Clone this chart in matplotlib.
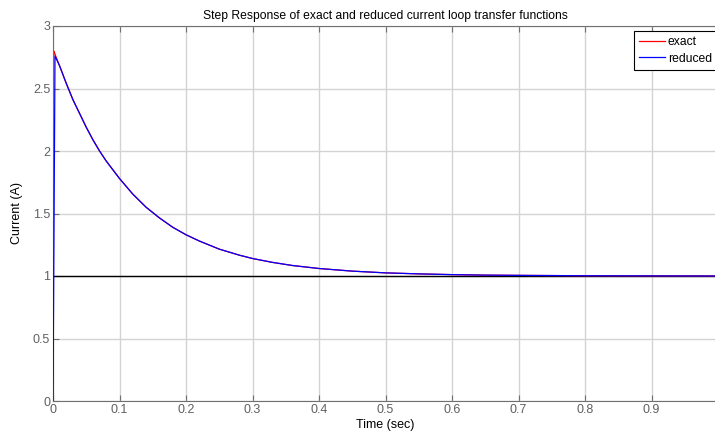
import matplotlib.pyplot as plt
import matplotlib

matplotlib.rcParams.update({'font.size': 9, 'font.family': ['Liberation Sans', 'DejaVu Sans']})

# time (sec) and current (A)
t_exact = [0, 0.0005, 0.001, 0.002, 0.004, 0.01, 0.02, 0.03, 0.04, 0.05, 0.06, 0.07,
           0.08, 0.09, 0.1, 0.12, 0.14, 0.16, 0.18, 0.2, 0.22, 0.25, 0.28, 0.3,
           0.33, 0.36, 0.4, 0.45, 0.5, 0.55, 0.6, 0.65, 0.7, 0.8, 0.9, 1.0]
i_exact = [0, 2.2, 2.80, 2.79, 2.76, 2.68, 2.54, 2.41, 2.30, 2.19, 2.09, 2.00,
           1.92, 1.85, 1.78, 1.655, 1.55, 1.465, 1.39, 1.33, 1.28, 1.215, 1.167, 1.14,
           1.109, 1.084, 1.06, 1.039, 1.025, 1.017, 1.011, 1.007, 1.005, 1.002, 1.001, 1.0]

t_reduced = [0, 0.003, 0.01, 0.02, 0.03, 0.04, 0.05, 0.06, 0.07,
             0.08, 0.09, 0.1, 0.12, 0.14, 0.16, 0.18, 0.2, 0.22, 0.25, 0.28, 0.3,
             0.33, 0.36, 0.4, 0.45, 0.5, 0.55, 0.6, 0.65, 0.7, 0.8, 0.9, 1.0]
i_reduced = [0, 2.76, 2.68, 2.54, 2.41, 2.30, 2.19, 2.09, 2.00,
             1.92, 1.85, 1.78, 1.655, 1.55, 1.465, 1.39, 1.33, 1.28, 1.215, 1.167, 1.14,
             1.109, 1.084, 1.06, 1.039, 1.025, 1.017, 1.011, 1.007, 1.005, 1.002, 1.001, 1.0]

xticks = [0, 0.1, 0.2, 0.3, 0.4, 0.5, 0.6, 0.7, 0.8, 0.9]
yticks = [0, 0.5, 1, 1.5, 2, 2.5, 3]

fig = plt.figure(figsize=(7.15, 4.41), dpi=100)
ax = fig.add_axes([53 / 715, 40 / 441, 665 / 715, 375 / 441])

ax.axhline(1, color='black', lw=1.0, zorder=1)
ax.plot(t_exact, i_exact, color='red', lw=0.9, label='exact', zorder=2)
ax.plot(t_reduced, i_reduced, color='blue', lw=0.9, label='reduced', zorder=3)

ax.set_xlim(0, 1)
ax.set_ylim(0, 3)
ax.set_xticks(xticks)
ax.set_xticklabels([('%g' % v) for v in xticks])
ax.set_yticks(yticks)
ax.set_yticklabels([('%g' % v) for v in yticks])
ax.grid(color='#d3d3d3', lw=1.0)
ax.set_axisbelow(True)

gray = '#707070'
for s in ax.spines.values():
    s.set_color(gray)
ax.spines['right'].set_visible(False)
ax.tick_params(direction='in', colors=gray, labelcolor='#606060', length=4, pad=2,
               top=True, right=False)

ax.set_xlabel('Time (sec)', labelpad=2)
ax.set_ylabel('Current (A)', labelpad=7)
ax.set_title('Step Response of exact and reduced current loop transfer functions',
             fontsize=8.7, pad=5)

leg = ax.legend(loc='upper left', bbox_to_anchor=((634 - 53) / 665, 1 - 5 / 375),
                fancybox=False, edgecolor='black', framealpha=1, handlelength=2.2,
                handletextpad=0.2, borderpad=0.4, labelspacing=0.4, fontsize=8.7,
                borderaxespad=0)
leg.get_frame().set_linewidth(0.8)

plt.savefig('out.png', dpi=100)
